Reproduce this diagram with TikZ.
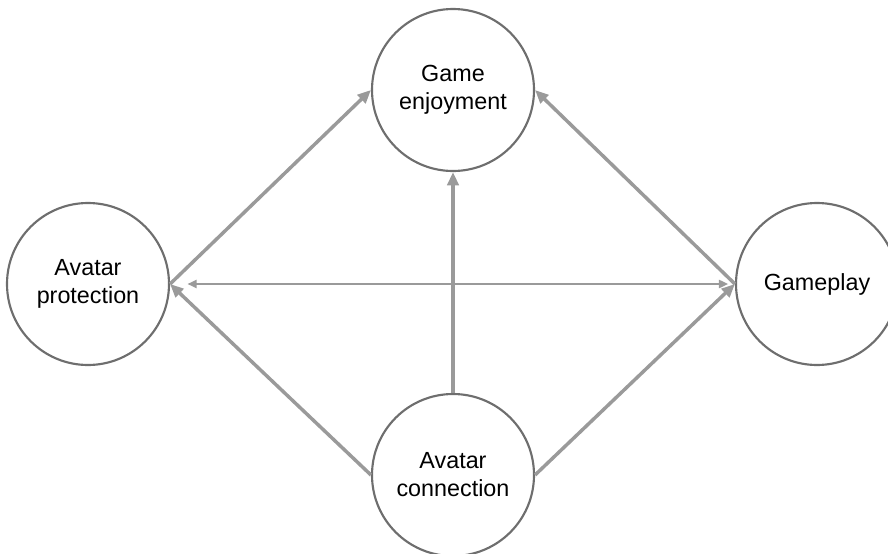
\documentclass[tikz,border=0pt]{standalone}
\usepackage{fontspec}
\setmainfont{Liberation Sans}
\usetikzlibrary{arrows.meta}
\definecolor{ring}{HTML}{6E6E6E}
\definecolor{arr}{HTML}{9A9A9A}
\tikzset{
  bubble/.style={circle, draw=ring, line width=1.6pt, fill=white, minimum size=121.5pt, inner sep=0pt, align=center, font=\fontsize{17.5pt}{21pt}\selectfont},
  link/.style={draw=arr, line width=2.6pt, -{Triangle[length=10pt,width=8.5pt]}},
  dlink/.style={draw=arr, line width=1.7pt, {Triangle[length=7pt,width=6pt]}-{Triangle[length=7pt,width=6pt]}}
}
\begin{document}
\begin{tikzpicture}[x=0.75pt,y=-0.75pt]
\useasboundingbox (0,0) rectangle (888,553);
\node[bubble] (ge) at (453,90) {Game\\enjoyment};
\node[bubble] (ap) at (88,284) {Avatar\\protection};
\node[bubble] (gp) at (817,284) {Gameplay};
\node[bubble] (ac) at (453,475) {Avatar\\connection};
\draw[link] (ap.east) -- (ge.west);
\draw[link] (gp.west) -- (ge.east);
\draw[link] (ac.north) -- (ge.south);
\draw[link] (ac.west) -- (ap.east);
\draw[link] (ac.east) -- (gp.west);
\draw[dlink, shorten <=13pt, shorten >=5pt] (ap.east) -- (gp.west);
\end{tikzpicture}
\end{document}
